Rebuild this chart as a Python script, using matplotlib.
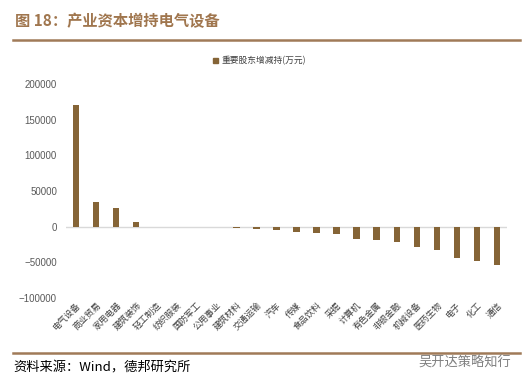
import matplotlib
matplotlib.use("Agg")
import matplotlib.pyplot as plt
from matplotlib.lines import Line2D
from matplotlib.patches import Rectangle

plt.rcParams['font.family'] = ['Noto Sans CJK SC', 'DejaVu Sans']

categories = ["电气设备", "商业贸易", "家用电器", "建筑装饰", "轻工制造", "纺织服装", "国防军工",
              "公用事业", "建筑材料", "交通运输", "汽车", "传媒", "食品饮料", "采掘", "计算机",
              "有色金属", "非银金融", "机械设备", "医药生物", "电子", "化工", "通信"]
values = [171000, 34000, 26700, 6200, 150, 100, -300, -500, -1500, -2600, -4000, -6800,
          -9300, -10700, -16800, -18200, -21000, -29000, -33000, -43500, -47700, -53800]
yticks = [-100000, -50000, 0, 50000, 100000, 150000, 200000]
series_name = "重要股东增减持(万元)"
title = "图 18：产业资本增持电气设备"
source = "资料来源：Wind，德邦研究所"
watermark = "吴开达策略知行"

bar_color = "#856436"
brown = "#A07A58"

fig = plt.figure(figsize=(5.27, 3.89), dpi=100)
ax = fig.add_axes([66/527, (389-298)/389, 441/527, 214/389])
x = list(range(len(categories)))
ax.bar(x, values, width=0.32, color=bar_color, zorder=3)
ax.set_xlim(-0.5, len(categories) - 0.5)
ax.set_ylim(-100000, 200000)
ax.set_yticks(yticks)
ax.set_yticklabels([str(v).replace('-', '\u2212') for v in yticks],
                   fontsize=7, color="#595959", family=['Liberation Sans', 'DejaVu Sans'])
ax.tick_params(axis='y', length=0, pad=6.5)
ax.set_xticks(x)
ax.set_xticklabels(categories, rotation=45, ha='right', rotation_mode='anchor',
                   fontsize=6.3, color="#404040")
ax.tick_params(axis='x', length=0, pad=2)
for s in ax.spines.values():
    s.set_visible(False)
ax.axhline(0, color="#D9D9D9", lw=1, zorder=2)
ax.patch.set_alpha(0)

# Title and rules
fig.text(15/527, 1 - 21/389, title, fontsize=11, fontweight='bold', color="#A0764E",
         va='center', ha='left')
fig.add_artist(Line2D([13/527, 520/527], [1 - 40/389, 1 - 40/389], color=brown, lw=1.8))
fig.add_artist(Line2D([13/527, 520/527], [1 - 353/389, 1 - 353/389], color=brown, lw=1.8))

# Legend
fig.add_artist(Rectangle((213/527, 1 - 63/389), 5/527, 5/389, color=bar_color,
                         transform=fig.transFigure))
fig.text(221/527, 1 - 60.5/389, series_name, fontsize=6.3, color="#404040",
         va='center', ha='left')

# Source and watermark
fig.text(13/527, 1 - 368/389, source, fontsize=9.5, color="#000000", va='center', ha='left')
fig.text(418/527, 1 - 363/389, watermark, fontsize=9.5, color="#808080", va='center', ha='left')

fig.savefig("out.png", dpi=100)
